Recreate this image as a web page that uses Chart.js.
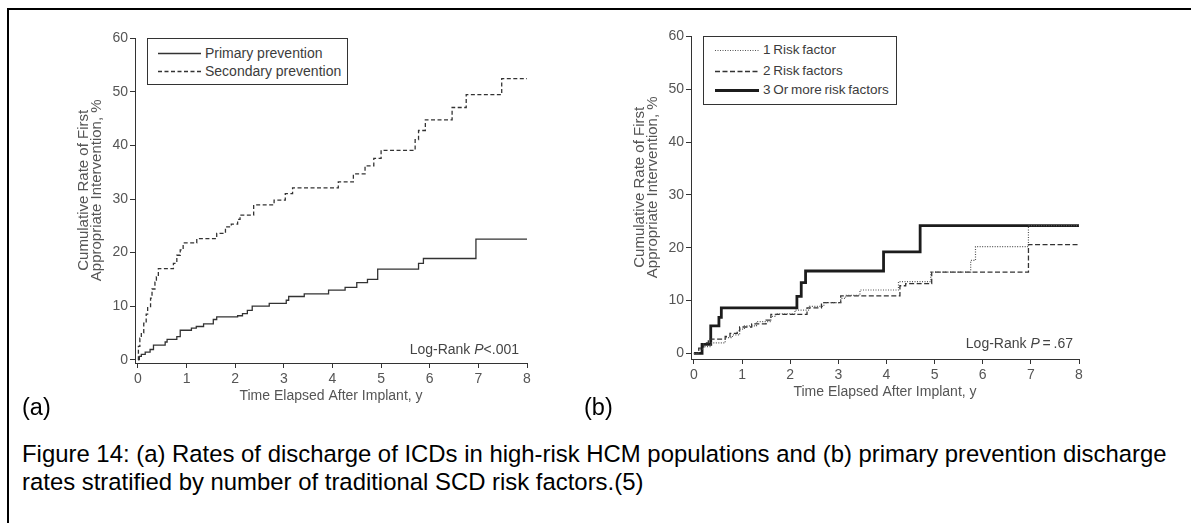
<!DOCTYPE html>
<html lang="en">
<head>
<meta charset="UTF-8">
<title>Figure 14 - ICD discharge rates</title>
<script src="https://cdn.jsdelivr.net/npm/chart.js"></script>
<style>
    body {
        margin: 0;
        width: 1191px;
        height: 523px;
        position: relative;
        overflow: hidden;
        background: #fff;
        font-family: Arial, "Liberation Sans", sans-serif;
    }
    .frame {
        position: absolute;
        left: 7px;
        top: 8px;
        width: 1300px;
        height: 700px;
        border-top: 2px solid #000;
        border-left: 2px solid #000;
    }
    canvas { position: absolute; }
    .legend {
        position: absolute;
        border: 1px solid #333;
        background: #fff;
        color: #3c3c3c;
        font-size: 14px;
    }
    .legend .row { position: absolute; height: 18px; line-height: 18px; white-space: nowrap; }
    .legend svg { position: absolute; top: 0; }
    .note { position: absolute; font-size: 14px; line-height: 18px; color: #444; white-space: nowrap; }
    .panel { position: absolute; font-size: 23.5px; line-height: 27px; color: #000; }
    .caption { position: absolute; left: 22px; top: 440px; font-size: 23.9px; line-height: 27.5px; color: #000; white-space: nowrap; }
</style>
</head>
<body>
<div class="frame"></div>

<canvas id="chartA" width="515" height="375" style="left:20px; top:28px;"></canvas>
<canvas id="chartB" width="511" height="373" style="left:576px; top:26px;"></canvas>

<div class="legend" id="legendA" style="left:147px; top:38px; width:199px; height:45px;"></div>
<div class="legend" id="legendB" style="left:703px; top:36px; width:192px; height:67px;"></div>

<div class="note" style="right:672px; top:340px;">Log-Rank <i>P</i>&lt;.001</div>
<div class="note" style="right:118px; top:334px;">Log-Rank <i>P</i>&thinsp;=&thinsp;.67</div>

<div class="panel" style="left:22px; top:394px;">(a)</div>
<div class="panel" style="left:584px; top:394px;">(b)</div>

<div class="caption">Figure 14: (a) Rates of discharge of ICDs in high-risk HCM populations and (b) primary prevention discharge<br>rates stratified by number of traditional SCD risk factors.(5)</div>

<script>
    // Оси
    const xTicks = [0, 1, 2, 3, 4, 5, 6, 7, 8];
    const yTicks = [0, 10, 20, 30, 40, 50, 60];

    // (a) первичная / вторичная профилактика, годы и %
    const primaryX = [0, 0.03, 0.07, 0.15, 0.25, 0.32, 0.56, 0.6, 0.8, 0.87, 1.1, 1.2, 1.35, 1.55, 1.62, 2.05, 2.15, 2.25, 2.35, 2.7, 3.05, 3.1, 3.42, 3.92, 4.26, 4.5, 4.72, 4.93, 5.77, 5.87, 6.95, 8];
    const primaryY = [0, 0.6, 1.0, 1.4, 1.9, 2.7, 3.3, 3.8, 4.3, 5.5, 5.9, 6.2, 6.7, 7.5, 8.0, 8.2, 8.6, 9.2, 10.0, 10.5, 11.1, 11.8, 12.3, 13.0, 13.5, 14.4, 15.0, 16.9, 18.0, 18.9, 22.5, 22.5];

    const secondaryX = [0, 0.01, 0.04, 0.07, 0.12, 0.17, 0.2, 0.26, 0.29, 0.35, 0.38, 0.42, 0.73, 0.8, 0.87, 0.93, 1.21, 1.62, 1.8, 1.92, 2.05, 2.1, 2.38, 2.8, 3.03, 3.18, 4.12, 4.43, 4.67, 4.85, 5.0, 5.7, 5.77, 5.91, 6.46, 6.75, 7.48, 8];
    const secondaryY = [0, 2.5, 4.0, 5.0, 6.8, 8.5, 9.9, 11.5, 13.2, 14.5, 15.5, 17.0, 18.0, 19.5, 20.5, 21.8, 22.6, 23.6, 24.8, 25.3, 26.2, 27.0, 28.9, 29.8, 31.0, 32.1, 33.2, 34.7, 36.2, 37.6, 39.1, 41.1, 42.8, 44.8, 47.1, 49.5, 52.5, 52.5];

    // (b) по числу факторов риска
    const risk1X = [0, 0.1, 0.2, 0.35, 0.65, 0.8, 0.95, 1.05, 1.3, 1.6, 1.7, 2.1, 2.4, 2.7, 3.05, 3.15, 3.45, 4.25, 4.92, 5.75, 5.85, 6.95, 8];
    const risk1Y = [0, 0.8, 1.3, 2.0, 3.0, 3.5, 4.6, 5.2, 6.0, 7.0, 7.5, 8.2, 8.9, 9.6, 10.4, 11.0, 12.0, 13.6, 15.4, 17.6, 20.2, 24.2, 24.2];

    const risk2X = [0, 0.1, 0.2, 0.3, 0.65, 0.75, 0.9, 0.95, 1.2, 1.5, 1.6, 2.35, 2.65, 3.05, 4.28, 4.4, 4.94, 6.95, 8];
    const risk2Y = [0, 1.0, 2.0, 2.7, 3.2, 3.8, 4.3, 5.0, 5.6, 6.3, 7.4, 8.6, 9.6, 10.9, 12.8, 13.2, 15.4, 20.6, 20.6];

    const risk3X = [0, 0.17, 0.35, 0.52, 0.57, 2.14, 2.23, 2.32, 3.94, 4.7, 8];
    const risk3Y = [0, 1.7, 5.2, 6.8, 8.6, 10.8, 13.4, 15.6, 19.2, 24.2, 24.2];

    const labelsA = ['Primary prevention', 'Secondary prevention'];
    const labelsB = ['1 Risk factor', '2 Risk factors', '3 Or more risk factors'];

    const styleA = [
        { color: '#333', width: 1.3, dash: [] },
        { color: '#333', width: 1.3, dash: [4, 2.5] }
    ];
    const styleB = [
        { color: '#555', width: 1.2, dash: [1, 1.5] },
        { color: '#333', width: 1.3, dash: [5, 2.5] },
        { color: '#1c1c1c', width: 2.8, dash: [] }
    ];

    // подпись оси Y чуть выше центра, как в оригинале
    const pad = '\u00a0'.repeat(5);
    const yTitle = [pad + 'Cumulative Rate of First', pad + 'Appropriate Intervention, %'];

    function toPoints(xs, ys) {
        return xs.map((x, i) => ({ x: x, y: ys[i] }));
    }

    function makeSets(series, labels, styles) {
        return series.map((s, i) => ({
            label: labels[i],
            data: toPoints(s[0], s[1]),
            borderColor: styles[i].color,
            borderWidth: styles[i].width,
            borderDash: styles[i].dash,
            stepped: true,
            pointRadius: 0,
            fill: false
        }));
    }

    function drawChart(id, datasets, yMin) {
        const axisColor = '#333';
        const textColor = '#555';
        return new Chart(document.getElementById(id), {
            type: 'line',
            data: { datasets: datasets },
            options: {
                responsive: false,
                animation: false,
                devicePixelRatio: 1,
                layout: { padding: { top: 10, right: 8, left: 0, bottom: 0 } },
                plugins: { legend: { display: false }, tooltip: { enabled: false } },
                scales: {
                    x: {
                        type: 'linear',
                        min: -0.06,
                        max: 8,
                        afterBuildTicks: s => { s.ticks = xTicks.map(v => ({ value: v })); },
                        afterFit: s => { s.height = 40; },
                        grid: { drawOnChartArea: false, tickLength: 5, color: axisColor },
                        border: { display: true, color: axisColor, width: 1 },
                        ticks: { color: textColor, font: { family: 'Arial', size: 14 }, padding: 3, maxRotation: 0, autoSkip: false },
                        title: {
                            display: true,
                            text: 'Time Elapsed After Implant, y',
                            color: textColor,
                            font: { family: 'Arial', size: 14, lineHeight: 1 },
                            padding: { top: 0, bottom: 0 }
                        }
                    },
                    y: {
                        min: yMin,
                        max: 60,
                        afterBuildTicks: s => { s.ticks = yTicks.map(v => ({ value: v })); },
                        afterFit: s => { s.width = 115; },
                        grid: { drawOnChartArea: false, tickLength: 5, color: axisColor },
                        border: { display: true, color: axisColor, width: 1 },
                        ticks: { color: textColor, font: { family: 'Arial', size: 14 }, padding: 2 },
                        title: {
                            display: true,
                            text: yTitle,
                            color: textColor,
                            font: { family: 'Arial', size: 15, lineHeight: 0.87 },
                            padding: { top: 57, bottom: 0 }
                        }
                    }
                }
            }
        });
    }

    function buildLegend(id, labels, styles, rowsY, sampleX, sampleW, textX) {
        const box = document.getElementById(id);
        labels.forEach((text, i) => {
            const st = styles[i];
            const row = document.createElement('div');
            row.className = 'row';
            row.style.left = '0px';
            row.style.top = (rowsY[i] - 9) + 'px';
            const svg = `<svg width="${sampleW}" height="18" style="left:${sampleX}px">` +
                `<line x1="0" y1="9.5" x2="${sampleW}" y2="9.5" stroke="${st.color}" stroke-width="${st.width}" stroke-dasharray="${st.dash.join(' ')}"/></svg>`;
            row.innerHTML = svg + `<span style="position:absolute; left:${textX}px; top:0">${text}</span>`;
            box.appendChild(row);
        });
    }

    drawChart('chartA', makeSets([[primaryX, primaryY], [secondaryX, secondaryY]], labelsA, styleA), -0.62);
    drawChart('chartB', makeSets([[risk1X, risk1Y], [risk2X, risk2Y], [risk3X, risk3Y]], labelsB, styleB), -1.06);

    buildLegend('legendA', labelsA, styleA, [14, 32], 10, 43, 57);
    buildLegend('legendB', labelsB, styleB, [13, 33.5, 53], 11, 44, 59);
    document.querySelectorAll('#legendB span').forEach(s => { s.style.wordSpacing = '-1px'; s.style.fontSize = '13.5px'; });
</script>
</body>
</html>
